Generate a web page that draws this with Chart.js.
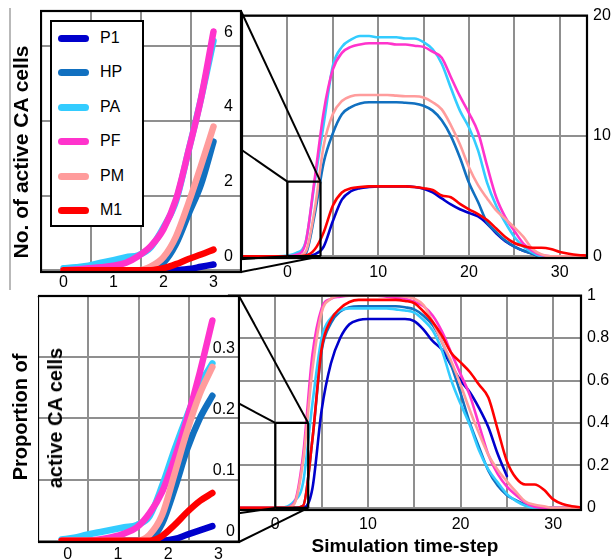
<!DOCTYPE html>
<html><head><meta charset="utf-8">
<script src="https://cdn.jsdelivr.net/npm/chart.js@4.4.1/dist/chart.umd.min.js"></script>
<style>
html,body{margin:0;padding:0;background:#fff;}
#wrap{position:relative;width:615px;height:560px;overflow:hidden;background:#fff;font-family:"Liberation Sans",Arial,sans-serif;}
#wrap canvas{position:absolute;}
#conn{position:absolute;left:0;top:0;}
.ttl{position:absolute;font-weight:bold;white-space:nowrap;transform:translate(-50%,-50%) rotate(-90deg);color:#000;line-height:1;}
#legend{position:absolute;left:50px;top:20px;width:90px;height:203px;border:2px solid #000;background:#fff;}
.lg-row{position:absolute;left:0;width:90px;height:20px;}
.lg-sw{position:absolute;left:6px;top:7px;width:31px;height:7px;border-radius:4px;}
.lg-tx{position:absolute;left:48px;top:0;font-size:16px;line-height:20px;color:#000;}
</style></head><body>
<div id="wrap">
<canvas id="mainTop" style="left:237px;top:0px" width="378" height="290"></canvas>
<canvas id="mainBot" style="left:224px;top:280px" width="391" height="280"></canvas>
<svg id="conn" width="615" height="560"></svg>
<canvas id="insTop" style="left:40px;top:0px" width="202" height="292"></canvas>
<canvas id="insBot" style="left:38px;top:288px" width="202" height="272"></canvas>
<div class="ttl" style="left:20px;top:152px;font-size:21px">No. of active CA cells</div>
<div class="ttl" style="left:20px;top:417px;font-size:20px">Proportion of</div>
<div class="ttl" style="left:55px;top:418px;font-size:20px">active CA cells</div>
<div id="legend"></div>
</div>
<script>
// ---------- series names and colours ----------
const SERIES = ['P1','HP','PA','PF','PM','M1'];
const COLORS = ['#0000cc','#1170c0','#33ccff','#ff33cc','#ff9c9c','#ff0000'];

// ---------- main charts: time steps ----------
const mainX = [-5,-4,-3,-2,-1,0,1,2,3,4,5,6,7,8,9,10,11,12,13,14,15,16,17,18,19,20,21,22,23,24,25,26,27,28,29,30,31,32,33];

// top main: number of active CA cells
const countP1 = [0,0,0,0,0, 0,0,0,0.15,0.8,2.9,4.7,5.4,5.65,5.75,5.8,5.8,5.8,5.8,5.75,5.6,5.3,4.8,4.3,3.9,3.6,3.3,2.7,1.9,1.25,0.8,0.45,0.2,0,0,0,0,0,0];
const countHP = [0,0,0,0,0, 0,0,0.2,3.45,7.8,10.2,11.8,12.4,12.7,12.8,12.8,12.8,12.8,12.75,12.7,12.5,12.1,11.3,10.0,8.2,6.1,4.5,2.8,2.0,1.3,0.8,0.45,0.2,0,0,0,0,0,0];
const countPA = [0,0,0,0,0, 0.05,0.27,1.15,6.15,11.0,15.8,17.4,18.0,18.3,18.3,18.2,18.2,18.2,18.1,18.1,17.8,17.2,16.0,14.0,12.1,10.7,8.8,6.1,4.2,2.8,1.6,0.8,0.3,0,0,0,0,0,0];
const countPF = [0,0,0,0,0, 0,0.12,1.1,6.4,12.0,15.5,16.9,17.4,17.6,17.7,17.7,17.7,17.6,17.6,17.5,17.4,17.0,16.5,14.9,13.3,11.9,10.3,7.5,4.9,3.25,2.1,1.05,0.45,0.1,0,0,0,0,0];
const countPM = [0,0,0,0,0, 0,0,0.35,3.85,9.2,11.8,12.9,13.3,13.4,13.4,13.4,13.4,13.35,13.3,13.3,13.2,12.8,12.2,10.9,9.3,7.4,5.9,4.8,3.8,3.1,2.4,1.6,0.6,0.15,0,0,0,0,0];
const countM1 = [0,0,0,0,0, 0,0,0.05,0.55,2.0,4.2,5.3,5.65,5.75,5.8,5.8,5.8,5.8,5.8,5.75,5.65,5.5,5.05,4.9,4.35,3.9,3.5,3.0,2.3,1.6,1.1,0.85,0.7,0.7,0.6,0.35,0.2,0.1,0.05];

// bottom main: proportion of active CA cells
const propP1 = [0,0,0,0,0, 0,0,0,0,0.09,0.46,0.68,0.8,0.865,0.885,0.89,0.89,0.89,0.89,0.89,0.88,0.84,0.785,0.745,0.67,0.6,0.545,0.47,0.38,0.255,0.15,null,null,null,null,null,null,null,null];
const propHP = [0,0,0,0,0, 0,0,0,0.01,0.32,0.74,0.87,0.925,0.945,0.95,0.95,0.95,0.95,0.95,0.945,0.935,0.905,0.86,0.78,0.67,0.54,0.4,0.285,0.175,0.105,0.06,0.035,0.015,0,0,0,0,0,0];
const propPA = [0,0,0,0,0, 0,0.003,0.03,0.12,0.49,0.8,0.895,0.93,0.94,0.94,0.94,0.94,0.94,0.935,0.93,0.92,0.885,0.835,0.74,0.6,0.49,0.39,0.27,0.18,0.12,0.065,0.032,0.01,0,0,0,0,0,0];
const propPF = [0,0,0,0,0, 0,0,0.02,0.25,0.72,0.94,0.985,0.995,1.0,1.0,1.0,1.0,0.995,0.99,0.985,0.97,0.95,0.905,0.83,0.73,0.63,0.53,0.39,0.25,0.16,0.1,0.06,0.025,0.005,0,0,0,0,0];
const propPM = [0,0,0,0,0, 0,0,0.015,0.22,0.65,0.92,0.985,1.0,1.0,1.0,1.0,1.0,1.0,1.0,0.995,0.985,0.955,0.875,0.78,0.69,0.58,0.46,0.35,0.25,0.18,0.125,0.075,0.03,0.015,0.008,0,0,0,0];
const propM1 = [0,0,0,0,0, 0,0,0,0.01,0.32,0.75,0.885,0.94,0.97,0.98,0.98,0.98,0.98,0.98,0.975,0.965,0.925,0.875,0.81,0.73,0.685,0.64,0.58,0.52,0.37,0.22,0.14,0.11,0.11,0.085,0.04,0.018,0.008,0.003];

// ---------- insets: first time steps ----------
const insetX = [0,0.25,0.5,0.75,1,1.25,1.5,1.75,2,2.25,2.5,2.75,3];
const insCountP1 = [0,0,0,0,0,0,0,0,0,0,0.03,0.09,0.15];
const insCountHP = [0,0,0,0,0,0,0,0.02,0.2,0.7,1.5,2.3,3.45];
const insCountPA = [0.05,0.08,0.12,0.2,0.27,0.35,0.4,0.62,1.15,1.85,3.2,4.6,6.15];
const insCountPF = [0,0.02,0.05,0.08,0.12,0.2,0.38,0.65,1.1,1.9,3.2,4.6,6.4];
const insCountPM = [0,0,0,0,0,0,0,0.1,0.35,0.9,1.8,2.8,3.85];
const insCountM1 = [0,0,0,0,0,0,0,0,0.05,0.16,0.3,0.42,0.55];

const insPropP1 = [0,0,0,0,0,0,0,0,0,0.003,0.01,0.017,0.024];
const insPropHP = [0,0,0,0,0,0,0,0.002,0.028,0.085,0.15,0.2,0.237];
const insPropPA = [0.002,0.005,0.01,0.014,0.018,0.022,0.026,0.04,0.09,0.15,0.205,0.255,0.29];
const insPropPF = [0,0,0,0.002,0.006,0.012,0.022,0.045,0.08,0.135,0.2,0.275,0.36];
const insPropPM = [0,0,0,0,0,0,0,0.01,0.042,0.11,0.18,0.24,0.284];
const insPropM1 = [0,0,0,0,0,0,0,0,0.008,0.026,0.047,0.065,0.078];

// ---------- ticks ----------
const mainGridX = [-5,0,5,10,15,20,25,30];
const mainXTickValues = [0,10,20,30];
const mainXTickLabels = ['0','10','20','30'];
const countYTickValues = [0,10,20];
const countYTickLabels = ['0','10','20'];
const propYTickValues = [0,0.2,0.4,0.6,0.8,1];
const propYTickLabels = ['0','0.2','0.4','0.6','0.8','1'];
const insXTickValues = [0,1,2,3];
const insXTickLabels = ['0','1','2','3'];
const insTopGridX = [-0.45,0.55,1.55,2.55,3.55];
const insBotGridX = [-0.47,0.53,1.53,2.53,3.53];
const insCountYTickValues = [0,2,4,6];
const insCountYTickLabels = ['0','2','4','6'];
const insPropYTickValues = [0,0.1,0.2,0.3,0.4];
const insPropYTickLabels = ['0','0.1','0.2','0.3',''];

// zoom boxes drawn in the main charts (data units: x0,x1,y0,y1)
const zoomBoxCount = [0,3.65,0,6.2];
const zoomBoxProp = [0,3.55,0,0.4];

Chart.defaults.font.family = '"Liberation Sans", Arial, sans-serif';
Chart.defaults.color = '#000';

const GRID = '#8f8f8f';

const framePlugin = {
  id: 'frame',
  beforeDraw(chart, args, opts) {
    if (opts.fill) {
      const a = chart.chartArea, c = chart.ctx;
      c.save(); c.fillStyle = '#fff';
      c.fillRect(a.left, a.top, a.right - a.left, a.bottom - a.top);
      c.restore();
    }
  },
  afterDraw(chart) {
    const a = chart.chartArea, c = chart.ctx;
    c.save(); c.strokeStyle = '#000'; c.lineWidth = 2.2;
    c.strokeRect(a.left, a.top, a.right - a.left, a.bottom - a.top);
    c.restore();
  }
};

function makeSets(xs, list, width) {
  return SERIES.map((name, i) => ({
    label: name,
    data: xs.map((x, j) => ({x: x, y: list[i][j]})),
    borderColor: COLORS[i], backgroundColor: COLORS[i],
    borderWidth: width, pointRadius: 0, tension: 0.4,
    cubicInterpolationMode: 'monotone', fill: false,
    borderCapStyle: 'round', borderJoinStyle: 'round',
    order: SERIES.length - i
  }));
}
function setTicks(vals) { return s => { s.ticks = vals.map(v => ({value: v})); }; }
function labelFrom(vals, labels) { return v => { const i = vals.indexOf(v); return i >= 0 ? labels[i] : ''; }; }

const baseOpts = {
  responsive: false, animation: false, events: [],
  plugins: {legend: {display: false}, tooltip: {enabled: false}}
};

// ---------- main top ----------
const mainTop = new Chart(document.getElementById('mainTop'), {
  type: 'line',
  data: {datasets: makeSets(mainX, [countP1,countHP,countPA,countPF,countPM,countM1], 2.6)},
  plugins: [framePlugin],
  options: Object.assign({}, baseOpts, {
    layout: {padding: {top: 15, left: 0, right: 0, bottom: 0}},
    plugins: {legend: {display: false}, tooltip: {enabled: false}, frame: {fill: false}},
    scales: {
      x: {type: 'linear', min: -5, max: 33, afterBuildTicks: setTicks(mainGridX),
          afterFit: s => { s.height = 32; },
          grid: {color: GRID, lineWidth: 2, drawTicks: false}, border: {display: false},
          ticks: {autoSkip: false, maxRotation: 0, padding: 5, font: {size: 16}, callback: labelFrom(mainXTickValues, mainXTickLabels)}},
      y: {position: 'right', min: -0.15, max: 20, afterBuildTicks: setTicks(countYTickValues),
          afterFit: s => { s.width = 28; },
          grid: {color: GRID, lineWidth: 2, drawTicks: false}, border: {display: false},
          ticks: {padding: 6, font: {size: 16}, callback: labelFrom(countYTickValues, countYTickLabels)}}
    }
  })
});

// ---------- main bottom ----------
const mainBot = new Chart(document.getElementById('mainBot'), {
  type: 'line',
  data: {datasets: makeSets(mainX, [propP1,propHP,propPA,propPF,propPM,propM1], 2.6)},
  plugins: [framePlugin],
  options: Object.assign({}, baseOpts, {
    layout: {padding: {top: 7, left: 2, right: 0, bottom: 0}},
    plugins: {legend: {display: false}, tooltip: {enabled: false}, frame: {fill: false}},
    scales: {
      x: {type: 'linear', min: -5, max: 33, afterBuildTicks: setTicks(mainGridX),
          afterFit: s => { s.height = 50; },
          grid: {color: GRID, lineWidth: 2, drawTicks: false}, border: {display: false},
          title: {display: true, text: 'Simulation time-step', font: {size: 19, weight: 'bold'}, padding: {top: 0, bottom: 2}},
          ticks: {autoSkip: false, maxRotation: 0, padding: 5, font: {size: 16}, callback: labelFrom(mainXTickValues, mainXTickLabels)}},
      y: {position: 'right', min: -0.01, max: 1.0, afterBuildTicks: setTicks(propYTickValues),
          afterFit: s => { s.width = 34; },
          grid: {color: GRID, lineWidth: 2, drawTicks: false}, border: {display: false},
          ticks: {padding: 6, font: {size: 16}, callback: labelFrom(propYTickValues, propYTickLabels)}}
    }
  })
});

// ---------- inset top ----------
const insTop = new Chart(document.getElementById('insTop'), {
  type: 'line',
  data: {datasets: makeSets(insetX, [insCountP1,insCountHP,insCountPA,insCountPF,insCountPM,insCountM1], 6.5)},
  plugins: [framePlugin],
  options: Object.assign({}, baseOpts, {
    layout: {padding: {top: 11, left: 1, right: 0, bottom: 0}},
    plugins: {legend: {display: false}, tooltip: {enabled: false}, frame: {fill: true}},
    scales: {
      x: {type: 'linear', min: -0.45, max: 3.55, afterBuildTicks: setTicks(insXTickValues),
          afterFit: s => { s.height = 20; },
          grid: {display: false, drawTicks: false}, border: {display: false},
          ticks: {autoSkip: false, maxRotation: 0, padding: 1, font: {size: 16}, callback: labelFrom(insXTickValues, insXTickLabels)}},
      xg: {type: 'linear', position: 'bottom', min: -0.45, max: 3.55, afterBuildTicks: setTicks(insTopGridX),
          afterFit: s => { s.height = 0; },
          grid: {color: GRID, lineWidth: 2, drawTicks: false}, border: {display: false},
          ticks: {display: false}},
      y: {position: 'right', min: -0.05, max: 6.95, afterBuildTicks: setTicks(insCountYTickValues),
          afterFit: s => { s.width = 1; },
          grid: {color: GRID, lineWidth: 2, drawTicks: false}, border: {display: false},
          ticks: {mirror: true, padding: -8, labelOffset: -14, font: {size: 16}, callback: labelFrom(insCountYTickValues, insCountYTickLabels)}}
    }
  })
});

// ---------- inset bottom ----------
const insBot = new Chart(document.getElementById('insBot'), {
  type: 'line',
  data: {datasets: makeSets(insetX, [insPropP1,insPropHP,insPropPA,insPropPF,insPropPM,insPropM1], 6.5)},
  plugins: [framePlugin],
  options: Object.assign({}, baseOpts, {
    layout: {padding: {top: 8, left: 0, right: 0, bottom: 0}},
    plugins: {legend: {display: false}, tooltip: {enabled: false}, frame: {fill: true}},
    scales: {
      x: {type: 'linear', min: -0.47, max: 3.53, afterBuildTicks: setTicks(insXTickValues),
          afterFit: s => { s.height = 18; },
          grid: {display: false, drawTicks: false}, border: {display: false},
          ticks: {autoSkip: false, maxRotation: 0, padding: 3, labelOffset: 6, font: {size: 16}, callback: labelFrom(insXTickValues, insXTickLabels)}},
      xg: {type: 'linear', position: 'bottom', min: -0.47, max: 3.53, afterBuildTicks: setTicks(insBotGridX),
          afterFit: s => { s.height = 0; },
          grid: {color: GRID, lineWidth: 2, drawTicks: false}, border: {display: false},
          ticks: {display: false}},
      y: {position: 'right', min: -0.002, max: 0.4, afterBuildTicks: setTicks(insPropYTickValues),
          afterFit: s => { s.width = 1; },
          grid: {color: GRID, lineWidth: 2, drawTicks: false}, border: {display: false},
          ticks: {mirror: true, padding: -4, labelOffset: -9, font: {size: 16}, callback: labelFrom(insPropYTickValues, insPropYTickLabels)}}
    }
  })
});

// ---------- connector lines (zoom boxes) ----------
function off(id) { const el = document.getElementById(id); return {l: el.offsetLeft, t: el.offsetTop}; }
function corners(chart, id) {
  const o = off(id), a = chart.chartArea;
  return {tl: [o.l + a.left, o.t + a.top], tr: [o.l + a.right, o.t + a.top],
          br: [o.l + a.right, o.t + a.bottom], bl: [o.l + a.left, o.t + a.bottom]};
}
function boxCorners(chart, id, b) {
  const o = off(id), sx = chart.scales.x, sy = chart.scales.y;
  const x0 = o.l + sx.getPixelForValue(b[0]), x1 = o.l + sx.getPixelForValue(b[1]);
  const y0 = o.t + sy.getPixelForValue(b[2]), y1 = o.t + sy.getPixelForValue(b[3]);
  return {tl: [x0, y1], tr: [x1, y1], br: [x1, y0], bl: [x0, y0]};
}
const NS = 'http://www.w3.org/2000/svg';
const svg = document.getElementById('conn');
function line(p, q, color, w) {
  const l = document.createElementNS(NS, 'line');
  l.setAttribute('x1', p[0]); l.setAttribute('y1', p[1]);
  l.setAttribute('x2', q[0]); l.setAttribute('y2', q[1]);
  l.setAttribute('stroke', color); l.setAttribute('stroke-width', w);
  svg.appendChild(l);
}
function connect(inset, insetId, main, mainId, box) {
  const c = corners(inset, insetId), b = boxCorners(main, mainId, box);
  ['tl','tr','br','bl'].forEach(k => line(c[k], b[k], '#000', 2));
  line(b.tl, b.tr, '#000', 2.2); line(b.tr, b.br, '#000', 2.2);
  line(b.br, b.bl, '#000', 2.2); line(b.bl, b.tl, '#000', 2.2);
}
connect(insTop, 'insTop', mainTop, 'mainTop', zoomBoxCount);
connect(insBot, 'insBot', mainBot, 'mainBot', zoomBoxProp);
line([10, 8], [10, 290], '#8a8a8a', 1.2);

// ---------- legend ----------
const lg = document.getElementById('legend');
SERIES.forEach((name, i) => {
  const row = document.createElement('div');
  row.className = 'lg-row';
  row.style.top = (6 + i * 34.4) + 'px';
  const sw = document.createElement('div');
  sw.className = 'lg-sw'; sw.style.background = COLORS[i];
  const tx = document.createElement('div');
  tx.className = 'lg-tx'; tx.textContent = name;
  row.appendChild(sw); row.appendChild(tx); lg.appendChild(row);
});
</script>
</body></html>
